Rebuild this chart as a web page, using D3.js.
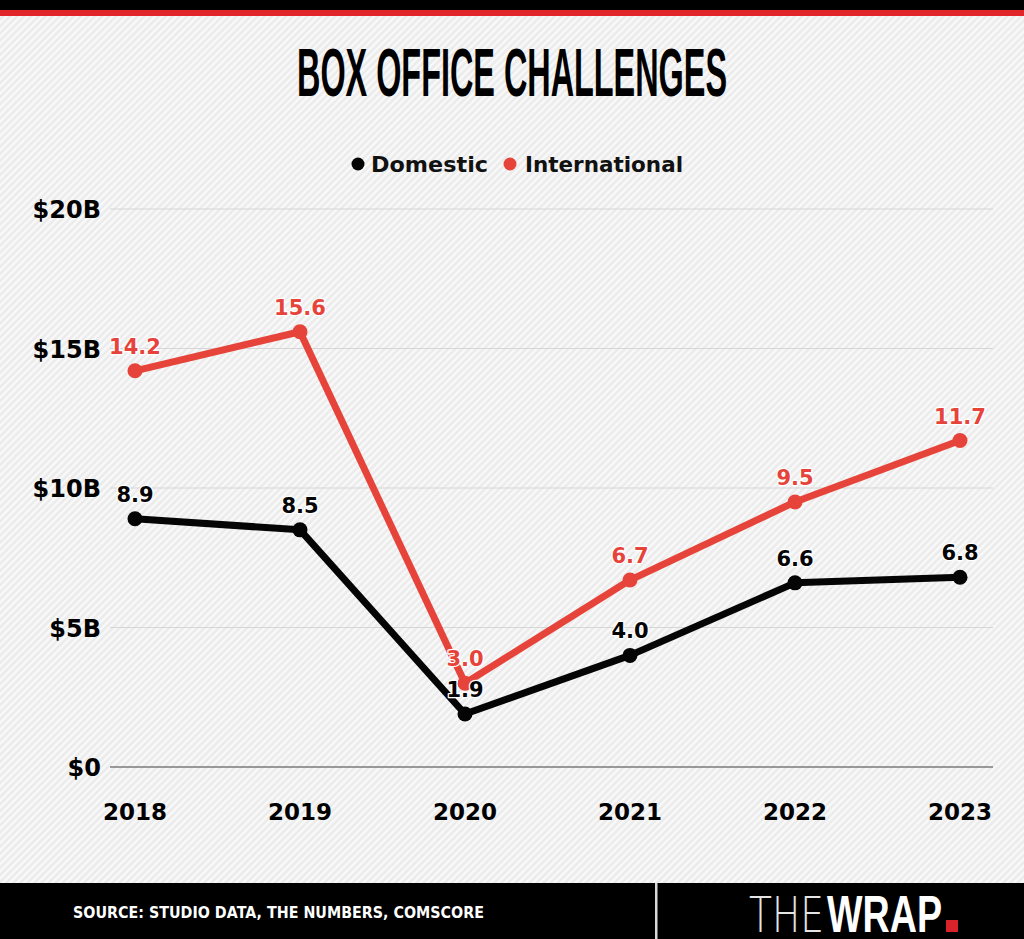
<!DOCTYPE html>
<html>
<head>
<meta charset="utf-8">
<script src="https://cdn.jsdelivr.net/npm/d3@7"></script>
<style>
  html, body { margin: 0; padding: 0; background: #f1f1f1; }
  svg { display: block; }
</style>
</head>
<body>
<svg id="chart" width="1024" height="939"></svg>
<script>
const years = ['2018', '2019', '2020', '2021', '2022', '2023'];
const domestic = [8.9, 8.5, 1.9, 4.0, 6.6, 6.8];
const international = [14.2, 15.6, 3.0, 6.7, 9.5, 11.7];
const yTicks = [0, 5, 10, 15, 20];
const tickLabels = ['$0', '$5B', '$10B', '$15B', '$20B'];

const W = 1024;
const H = 939;
const red = '#e6443a';
const black = '#050505';

const svg = d3.select('#chart');

// striped background
const defs = svg.append('defs');
const pat = defs
  .append('pattern')
  .attr('id', 'stripes')
  .attr('width', 5)
  .attr('height', 5)
  .attr('patternUnits', 'userSpaceOnUse')
  .attr('patternTransform', 'rotate(45)');
pat.append('rect').attr('width', 5).attr('height', 5).attr('fill', '#ebebeb');
pat.append('rect').attr('width', 2.4).attr('height', 5).attr('fill', '#f9f9f9');

svg.append('rect').attr('width', W).attr('height', H).attr('fill', 'url(#stripes)');

// top bars
svg.append('rect').attr('width', W).attr('height', 10).attr('fill', '#000');
svg.append('rect').attr('y', 10).attr('width', W).attr('height', 6).attr('fill', '#e0252b');

// title
svg
  .append('text')
  .attr('x', 512)
  .attr('y', 96)
  .attr('text-anchor', 'middle')
  .attr('textLength', 430)
  .attr('lengthAdjust', 'spacingAndGlyphs')
  .attr('font-family', 'Liberation Sans Narrow, Arial Narrow, sans-serif')
  .attr('font-weight', 'bold')
  .attr('font-size', 68)
  .attr('fill', '#000')
  .text('BOX OFFICE CHALLENGES');

// legend
const legend = [
  { name: 'Domestic', color: black, cx: 358, tx: 371, len: 117 },
  { name: 'International', color: red, cx: 510, tx: 525, len: 158 },
];
const lg = svg.append('g').attr('class', 'legend');
lg.selectAll('circle')
  .data(legend)
  .join('circle')
  .attr('cx', (d) => d.cx)
  .attr('cy', 164)
  .attr('r', 6.5)
  .attr('fill', (d) => d.color);
lg.selectAll('text')
  .data(legend)
  .join('text')
  .attr('x', (d) => d.tx)
  .attr('y', 172)
  .attr('textLength', (d) => d.len)
  .attr('lengthAdjust', 'spacingAndGlyphs')
  .attr('font-family', 'DejaVu Sans, sans-serif')
  .attr('font-weight', 'bold')
  .attr('font-size', 21)
  .attr('fill', '#111')
  .text((d) => d.name);

// scales
const xScale = d3.scalePoint().domain(years).range([135, 960]);
const yScale = d3.scaleLinear().domain([0, 20]).range([767, 209]);

// gridlines + y labels
const grid = svg.append('g');
grid
  .selectAll('line')
  .data(yTicks)
  .join('line')
  .attr('x1', 110)
  .attr('x2', 993)
  .attr('y1', (d) => yScale(d))
  .attr('y2', (d) => yScale(d))
  .attr('stroke', (d) => (d === 0 ? '#7a7a7a' : '#d6d6d6'))
  .attr('stroke-width', (d) => (d === 0 ? 1.5 : 1.2));

grid
  .selectAll('text')
  .data(yTicks)
  .join('text')
  .attr('x', 101)
  .attr('y', (d) => yScale(d) + 9)
  .attr('text-anchor', 'end')
  .attr('font-family', 'DejaVu Sans, sans-serif')
  .attr('font-weight', 'bold')
  .attr('font-size', 24)
  .attr('fill', '#000')
  .text((d, i) => tickLabels[i]);

// x labels
svg
  .append('g')
  .selectAll('text')
  .data(years)
  .join('text')
  .attr('x', (d) => xScale(d))
  .attr('y', 820)
  .attr('text-anchor', 'middle')
  .attr('font-family', 'DejaVu Sans, sans-serif')
  .attr('font-weight', 'bold')
  .attr('font-size', 23)
  .attr('fill', '#000')
  .text((d) => d);

// lines
const series = [
  { name: 'International', values: international, color: red },
  { name: 'Domestic', values: domestic, color: black },
];

const line = d3
  .line()
  .x((d, i) => xScale(years[i]))
  .y((d) => yScale(d));

series.forEach((s) => {
  const g = svg.append('g');
  g.append('path')
    .attr('d', line(s.values))
    .attr('fill', 'none')
    .attr('stroke', s.color)
    .attr('stroke-width', 7)
    .attr('stroke-linejoin', 'round');
  g.selectAll('circle')
    .data(s.values)
    .join('circle')
    .attr('cx', (d, i) => xScale(years[i]))
    .attr('cy', (d) => yScale(d))
    .attr('r', 7.5)
    .attr('fill', s.color);
});

// value labels (on top of everything)
series.forEach((s) => {
  svg
    .append('g')
    .selectAll('text')
    .data(s.values)
    .join('text')
    .attr('x', (d, i) => xScale(years[i]))
    .attr('y', (d) => yScale(d) - 17)
    .attr('text-anchor', 'middle')
    .attr('font-family', 'DejaVu Sans, sans-serif')
    .attr('font-weight', 'bold')
    .attr('font-size', 21)
    .attr('fill', s.color)
    .attr('stroke', '#fff')
    .attr('stroke-width', 2.5)
    .attr('stroke-linejoin', 'round')
    .attr('paint-order', 'stroke')
    .text((d) => d.toFixed(1));
});

// footer
svg.append('rect').attr('y', 883).attr('width', W).attr('height', H - 883).attr('fill', '#000');
svg
  .append('rect')
  .attr('x', 655)
  .attr('y', 883)
  .attr('width', 2.5)
  .attr('height', H - 883)
  .attr('fill', '#d8d8d8');

svg
  .append('text')
  .attr('x', 73)
  .attr('y', 918)
  .attr('textLength', 411)
  .attr('lengthAdjust', 'spacingAndGlyphs')
  .attr('font-family', 'DejaVu Sans, sans-serif')
  .attr('font-weight', 'bold')
  .attr('font-size', 16.5)
  .attr('fill', '#fff')
  .text('SOURCE: STUDIO DATA, THE NUMBERS, COMSCORE');

// logo
svg
  .append('text')
  .attr('x', 749)
  .attr('y', 932)
  .attr('textLength', 75)
  .attr('lengthAdjust', 'spacingAndGlyphs')
  .attr('font-family', 'DejaVu Sans, sans-serif')
  .attr('font-weight', 200)
  .attr('font-size', 50)
  .attr('fill', '#e4e4e4')
  .text('THE');
svg
  .append('text')
  .attr('x', 827)
  .attr('y', 932)
  .attr('textLength', 115)
  .attr('lengthAdjust', 'spacingAndGlyphs')
  .attr('font-family', 'Liberation Sans, Arial, sans-serif')
  .attr('font-weight', 'bold')
  .attr('font-size', 52)
  .attr('fill', '#fff')
  .text('WRAP');
svg.append('rect').attr('x', 946).attr('y', 920).attr('width', 12).attr('height', 12).attr('fill', '#d8232a');
</script>
</body>
</html>
